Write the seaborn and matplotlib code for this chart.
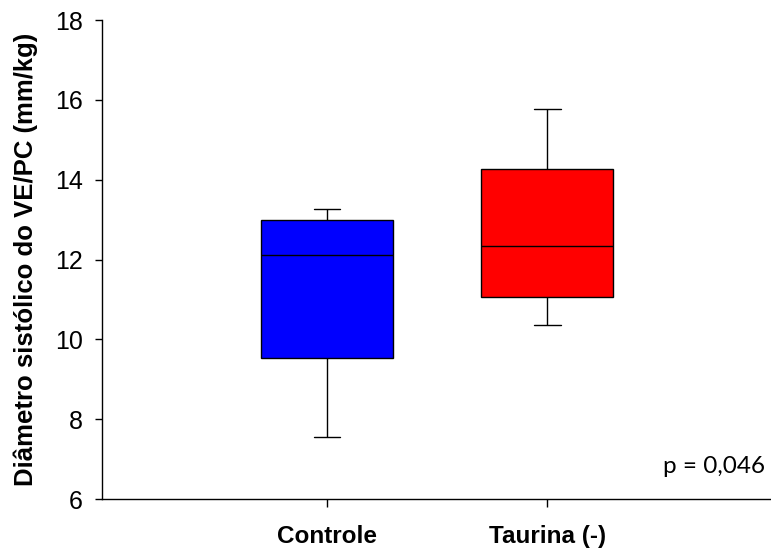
import numpy as np
import pandas as pd
import matplotlib
matplotlib.use("Agg")
import matplotlib.pyplot as plt
import seaborn as sns

# Five-number summaries for each group: min, Q1, median, Q3, max
groups = ["Controle", "Taurina (-)"]
controle_vals = [7.56, 9.54, 12.11, 12.99, 13.26]
taurina_vals = [10.36, 11.06, 12.34, 14.26, 15.78]
box_colors = ["#0000FF", "#FF0000"]
y_ticks = [6, 8, 10, 12, 14, 16, 18]
p_text = "p = 0,046"

df = pd.DataFrame({
    "grupo": [groups[0]] * len(controle_vals) + [groups[1]] * len(taurina_vals),
    "valor": controle_vals + taurina_vals,
})

sns.set_style("ticks")
plt.rcParams["font.family"] = ["Liberation Sans", "DejaVu Sans"]
plt.rcParams["text.color"] = "black"
plt.rcParams["axes.labelcolor"] = "black"
plt.rcParams["xtick.color"] = "black"
plt.rcParams["ytick.color"] = "black"

fig = plt.figure(figsize=(7.71, 5.5), dpi=100)
ax = fig.add_axes([0.1323, 0.0927, 0.8664, 0.8709])

sns.boxplot(
    data=df, x="grupo", y="valor", order=groups, hue="grupo",
    hue_order=groups, palette=box_colors, saturation=1, legend=False,
    width=0.6, whis=np.inf, linecolor="black", linewidth=1.0,
    showfliers=False, ax=ax,
)

# narrow whisker caps
ends = {min(controle_vals), max(controle_vals), min(taurina_vals), max(taurina_vals)}
for line in ax.lines:
    xd = np.asarray(line.get_xdata(), dtype=float)
    yd = np.asarray(line.get_ydata(), dtype=float)
    if len(xd) == 2 and yd[0] == yd[1] and yd[0] in ends:
        c = xd.mean()
        line.set_xdata([c - 0.06, c + 0.06])

ax.set_xlim(-1.02, 2.01)
ax.set_ylim(6, 18)
ax.set_yticks(y_ticks)
ax.tick_params(axis="y", labelsize=18, length=5, width=1, direction="out", pad=9)
ax.tick_params(axis="x", labelsize=17.5, length=6, width=1, direction="out", pad=13)
for lab in ax.get_xticklabels():
    lab.set_fontweight("bold")
ax.set_xlabel("")
ax.set_ylabel("Diâmetro sistólico do VE/PC (mm/kg)", fontsize=18.5, fontweight="bold", labelpad=12)

sns.despine(ax=ax)
for side in ("left", "bottom"):
    ax.spines[side].set_linewidth(1)
    ax.spines[side].set_color("black")

ax.text(0.9925, 0.054, p_text, transform=ax.transAxes, ha="right", va="baseline",
        fontsize=17.5, family=["Lato", "DejaVu Sans"], color="black")

fig.savefig("out.png", dpi=100)
